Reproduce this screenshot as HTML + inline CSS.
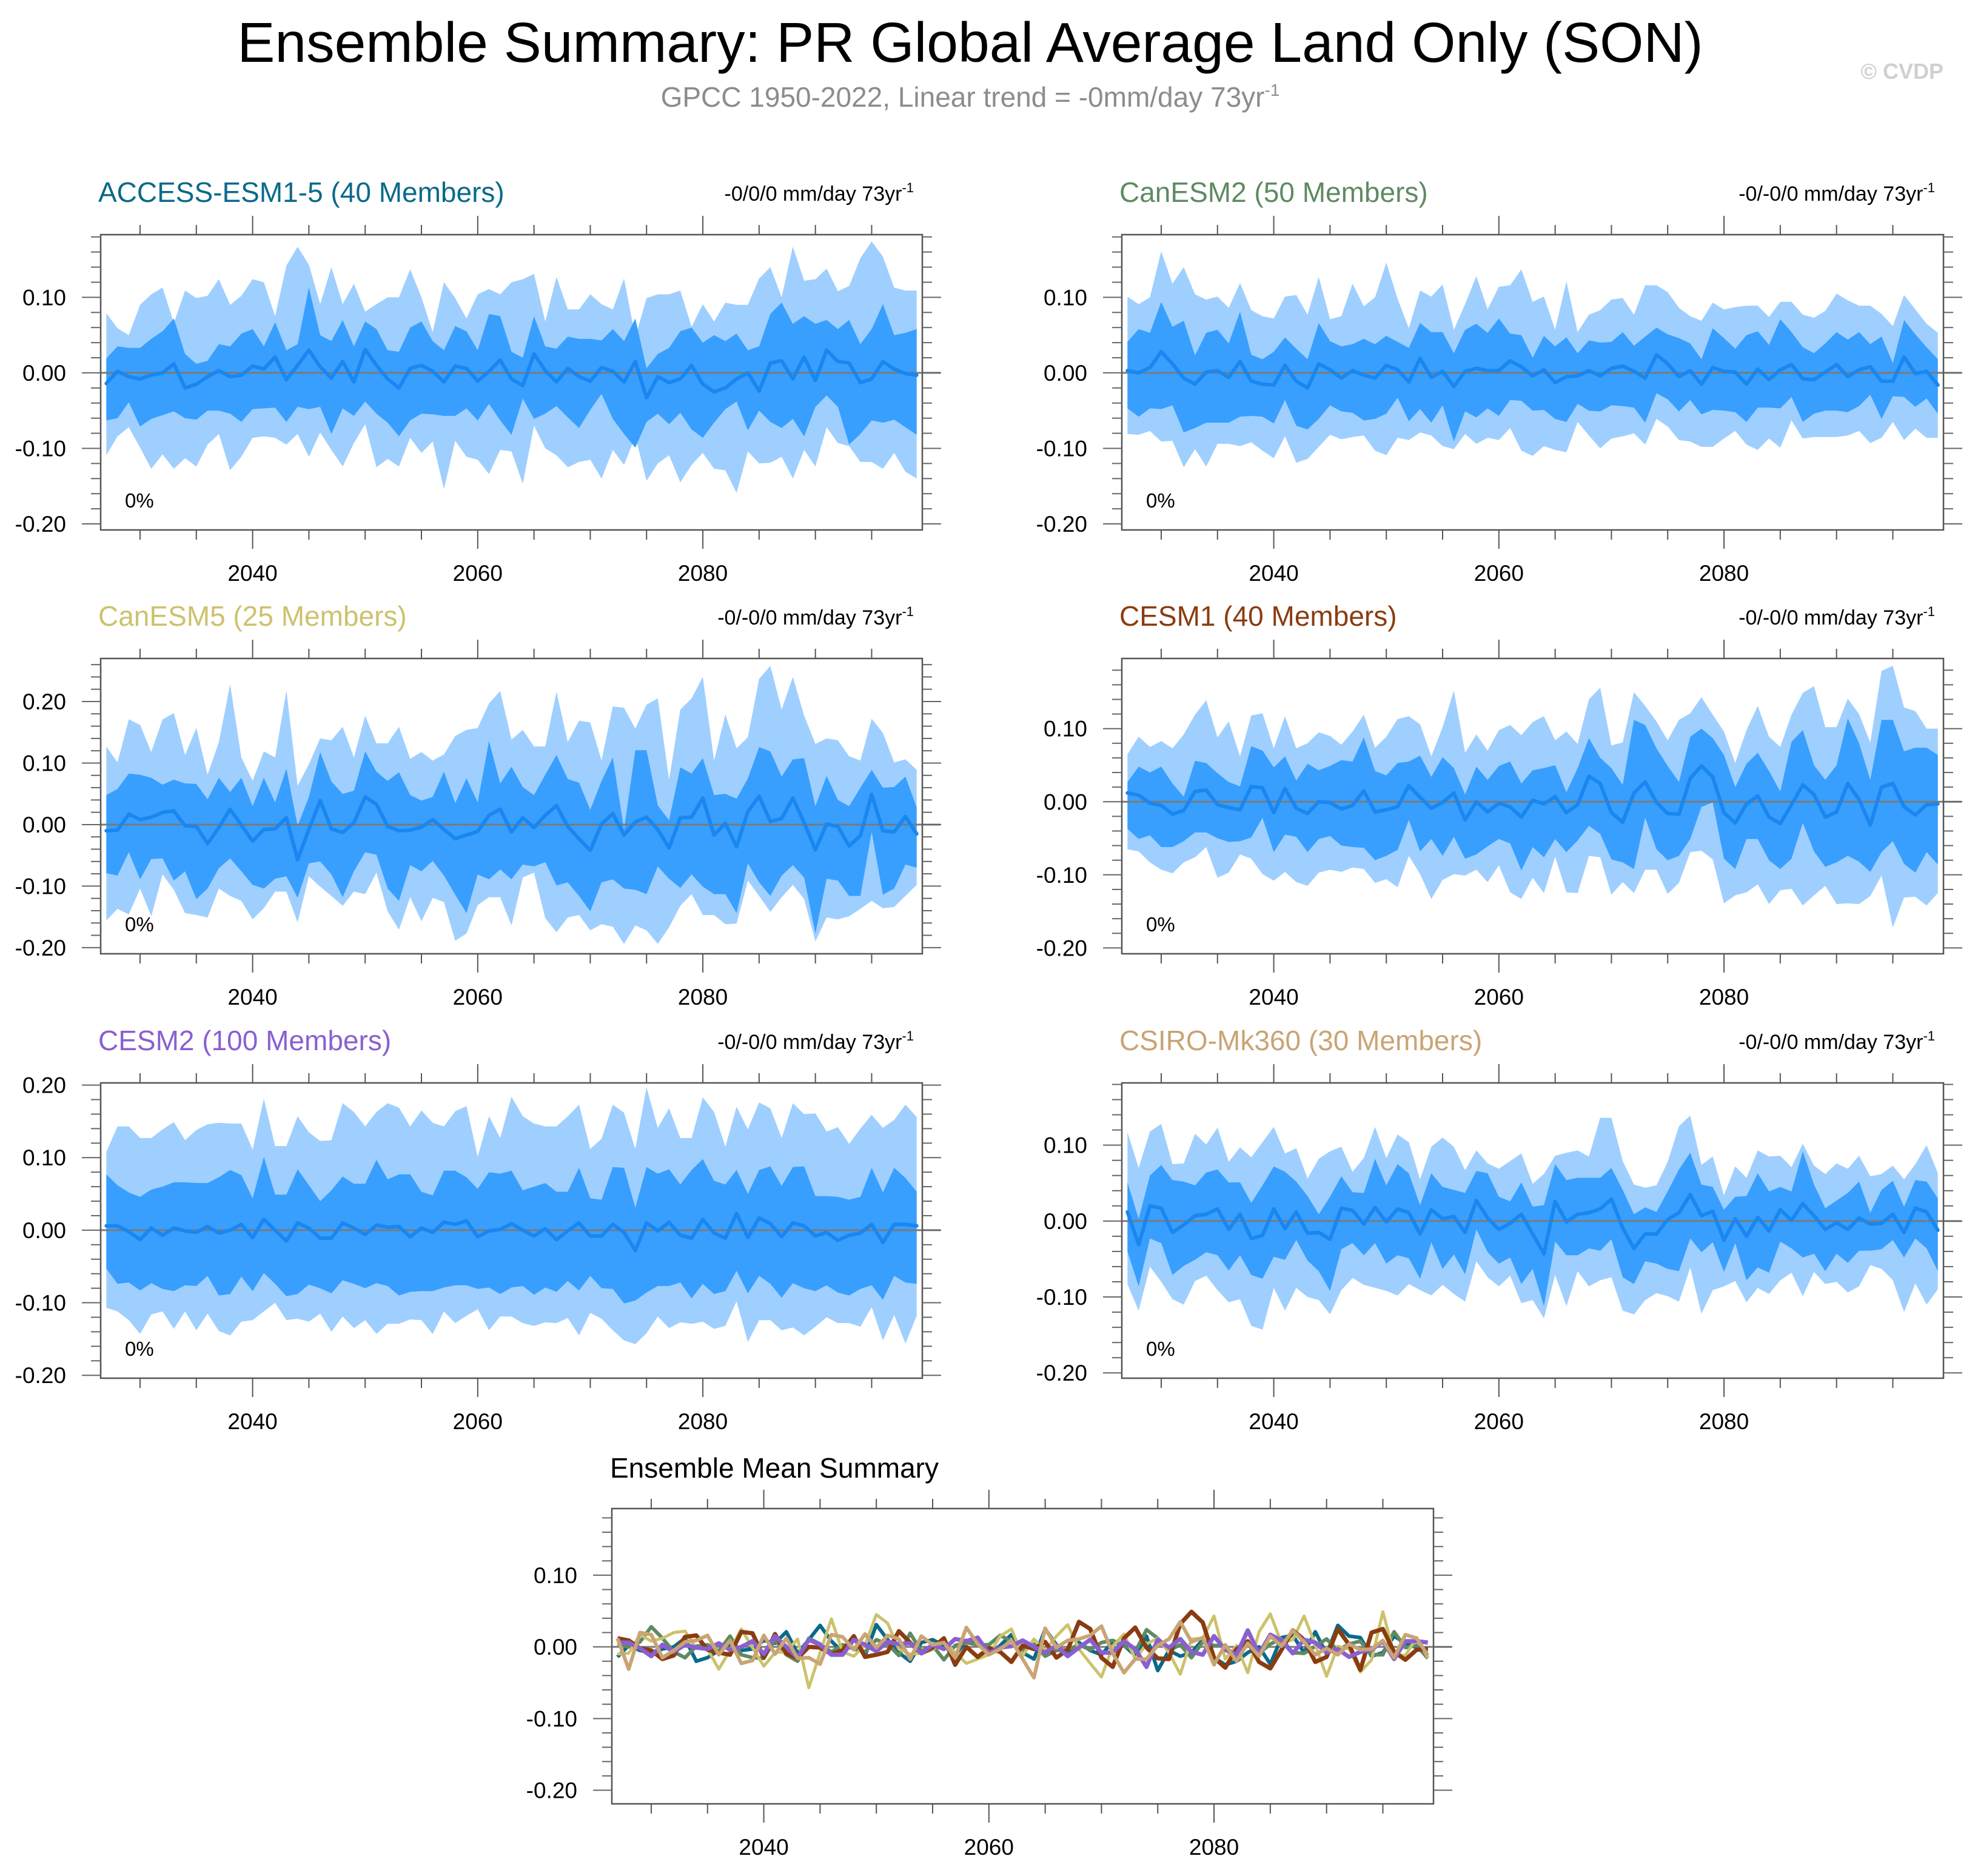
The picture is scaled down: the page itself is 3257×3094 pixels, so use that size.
<!DOCTYPE html>
<html><head><meta charset="utf-8">
<style>
html,body{margin:0;padding:0;background:#fff;}
svg{display:block;font-family:"Liberation Sans",sans-serif;}
</style></head>
<body>
<svg id="chart" width="3257" height="3094" viewBox="0 0 3257 3094" xmlns="http://www.w3.org/2000/svg">
<text x="1600" y="102" font-size="93" text-anchor="middle" fill="#000">Ensemble Summary: PR Global Average Land Only (SON)</text>
<text x="1600" y="176" font-size="46" text-anchor="middle" fill="#8c8c8c">GPCC 1950-2022, Linear trend = -0mm/day 73yr<tspan dy="-18" font-size="28">-1</tspan></text>
<text x="3205" y="130" font-size="36" font-weight="bold" text-anchor="end" fill="#d0d0d0">© CVDP</text>
</svg>
<script>
const years0 = 2027;
const xTicks = [2040, 2060, 2080];
const accessMean = [-14,2,-5,-8,-3,0,12,-20,-15,-5,3,-5,-3,9,5,21,-9,10,30,8,-7,15,-12,31,10,-8,-20,6,10,2,-12,9,6,-11,2,17,-8,-17,25,3,-12,6,-5,-11,7,2,-12,15,-33,-5,-13,-8,10,-15,-25,-20,-8,0,-24,13,16,-8,21,-10,30,15,13,-13,-8,15,5,-1,-3];
const accessInHi = [19,35,33,33,45,55,72,25,12,16,38,35,52,58,35,67,30,38,113,50,42,70,35,68,58,30,28,60,68,42,30,62,55,30,78,75,28,20,75,35,32,48,45,45,43,58,42,72,6,25,33,55,60,40,50,42,52,30,35,78,93,65,75,65,70,58,70,38,58,91,50,53,58];
const accessInLo = [-63,-60,-39,-71,-61,-56,-51,-60,-62,-50,-50,-54,-65,-48,-47,-46,-65,-45,-48,-45,-81,-47,-57,-38,-54,-66,-84,-63,-54,-55,-57,-57,-47,-63,-41,-63,-82,-34,-61,-54,-44,-59,-73,-49,-28,-61,-81,-99,-65,-54,-68,-53,-75,-86,-66,-48,-38,-76,-50,-65,-73,-61,-84,-45,-30,-45,-95,-81,-63,-66,-62,-72,-82];
const accessOutHi = [79,59,50,90,104,113,66,109,99,102,124,90,102,124,120,75,142,167,143,91,140,91,118,81,91,100,100,137,100,54,120,99,72,104,111,104,120,124,131,68,127,84,84,104,91,84,125,47,99,104,104,109,61,91,68,93,90,90,125,140,100,167,122,124,138,108,115,152,174,154,113,109,109];
const accessOutLo = [-109,-84,-72,-99,-127,-108,-127,-113,-124,-95,-81,-129,-111,-86,-84,-86,-95,-81,-111,-79,-102,-124,-93,-68,-125,-114,-124,-86,-106,-91,-154,-90,-111,-115,-134,-102,-104,-147,-70,-100,-109,-125,-118,-115,-140,-102,-122,-84,-143,-120,-109,-145,-122,-106,-127,-129,-159,-104,-120,-119,-111,-140,-102,-124,-72,-93,-97,-118,-118,-127,-106,-131,-140];

const canesm2Mean = [3,0,7,28,12,-7,-15,1,3,-6,15,-11,-15,-16,10,-11,-20,12,4,-7,3,-3,-7,10,4,-12,19,-6,2,-18,2,6,3,3,16,8,-4,4,-13,-5,-4,3,-4,6,9,2,-7,24,12,-5,3,-15,7,2,1,-15,5,-9,4,11,-8,-9,1,11,-5,4,8,-11,-11,21,-1,2,-16];
const canesm2InHi = [41,58,53,94,61,69,23,53,57,39,81,24,18,28,47,32,18,66,42,35,38,45,38,49,41,33,66,54,54,26,57,65,53,72,52,50,20,49,35,47,26,43,40,41,54,36,48,60,51,46,39,18,59,46,32,50,55,37,71,54,34,26,39,54,44,54,38,48,13,70,51,34,18];
const canesm2InLo = [-47,-58,-47,-48,-43,-79,-73,-66,-66,-66,-58,-57,-58,-67,-36,-70,-75,-61,-43,-51,-53,-63,-61,-54,-33,-64,-48,-66,-43,-91,-51,-59,-47,-57,-36,-37,-50,-49,-61,-65,-41,-50,-51,-43,-44,-46,-66,-27,-35,-51,-36,-55,-49,-50,-52,-65,-46,-46,-47,-32,-65,-54,-50,-50,-52,-44,-29,-61,-31,-32,-45,-34,-54];
const canesm2OutHi = [101,91,100,161,118,140,104,97,101,86,119,83,75,72,101,103,77,127,71,75,118,88,100,146,98,59,109,101,117,57,91,128,84,114,116,137,94,101,57,121,54,77,83,97,99,77,116,116,107,86,75,69,93,84,87,89,89,74,94,94,77,73,82,105,96,89,89,78,62,103,84,65,53];
const canesm2OutLo = [-81,-82,-77,-91,-90,-125,-101,-124,-94,-94,-97,-92,-103,-113,-84,-119,-114,-98,-82,-88,-85,-83,-103,-109,-86,-89,-79,-83,-97,-101,-81,-94,-86,-89,-73,-103,-110,-97,-102,-105,-65,-83,-100,-87,-84,-80,-95,-61,-71,-89,-91,-98,-98,-87,-77,-95,-102,-87,-99,-63,-87,-85,-85,-85,-83,-77,-93,-86,-65,-89,-74,-86,-86];

const canesm5Mean = [-10,-9,17,8,12,20,22,-2,-3,-31,-5,25,-1,-27,-8,-7,11,-57,-8,39,-7,-13,3,45,33,-3,-10,-9,-4,8,-8,-23,-17,-11,15,25,-12,11,-5,15,31,-3,-23,-42,1,18,-17,4,12,-8,-38,11,12,43,-17,2,-36,21,46,5,10,43,3,-41,1,-3,-35,-18,49,-10,-12,13,-15];
const canesm5InHi = [48,58,83,81,76,65,73,67,66,41,76,53,76,30,76,36,91,-2,45,118,70,50,55,119,86,71,85,48,39,45,86,35,75,36,136,67,94,61,48,81,113,74,68,24,71,109,-8,121,121,31,7,93,83,108,48,50,42,75,126,119,78,106,108,30,79,40,30,60,89,60,61,78,28];
const canesm5InLo = [-79,-83,-45,-89,-56,-55,-91,-76,-121,-104,-71,-55,-76,-98,-104,-88,-84,-119,-63,-60,-81,-118,-76,-45,-49,-104,-124,-66,-76,-59,-83,-114,-144,-81,-89,-73,-89,-65,-68,-61,-99,-94,-116,-141,-94,-89,-104,-106,-113,-68,-88,-103,-81,-101,-113,-113,-144,-63,-94,-116,-83,-66,-86,-177,-88,-91,-116,-116,-12,-114,-104,-65,-70];
const canesm5OutHi = [127,101,171,162,118,171,181,113,157,81,134,228,109,71,119,109,218,63,98,140,137,159,109,177,132,132,159,107,118,104,114,144,154,157,197,217,138,154,127,127,216,134,169,166,104,192,190,156,195,205,73,187,205,240,104,179,124,142,237,258,187,240,177,131,140,137,111,104,172,149,101,106,89];
const canesm5OutLo = [-156,-137,-146,-104,-149,-81,-106,-144,-147,-151,-104,-116,-124,-154,-136,-109,-109,-159,-84,-101,-116,-132,-109,-113,-78,-141,-171,-118,-157,-119,-126,-189,-177,-131,-118,-118,-164,-86,-78,-152,-175,-151,-147,-172,-162,-166,-194,-164,-172,-194,-167,-132,-113,-147,-147,-162,-161,-91,-116,-142,-118,-98,-121,-190,-151,-154,-149,-137,-124,-136,-134,-116,-98];

const cesm1Mean = [12,9,-2,-5,-17,-12,14,16,-4,-8,-11,21,19,-15,18,-9,-16,0,-1,-10,-5,15,-14,-11,-7,22,6,-9,-1,12,-25,0,-14,-2,-7,-21,2,-3,7,-15,-4,35,25,-15,-28,12,27,-1,-16,-17,32,49,34,-15,-29,-3,8,-21,-30,-4,23,10,-21,-14,25,3,-32,20,25,-7,-18,-4,-3];
const cesm1InHi = [27,48,40,48,25,7,56,53,39,27,21,76,70,47,62,29,52,43,49,57,55,88,42,36,53,55,63,34,61,46,10,48,30,49,55,25,43,46,50,13,46,87,60,46,23,112,105,73,49,27,89,100,87,64,20,52,67,42,14,82,98,50,30,50,114,80,30,112,112,69,74,74,64];
const cesm1InLo = [-37,-51,-46,-62,-62,-54,-42,-42,-50,-55,-54,-49,-22,-69,-45,-48,-69,-51,-47,-60,-62,-63,-80,-74,-66,-25,-68,-51,-74,-48,-78,-72,-61,-51,-57,-94,-62,-76,-51,-69,-53,-33,-44,-79,-83,-92,-22,-65,-80,-74,-51,-7,-1,-78,-92,-51,-51,-80,-92,-78,-29,-68,-89,-83,-74,-82,-96,-69,-54,-85,-97,-69,-86];
const cesm1OutHi = [65,89,75,83,73,92,119,139,88,110,62,118,121,73,117,73,80,95,90,78,96,119,74,89,113,117,106,62,102,152,67,92,70,98,105,91,109,117,84,96,79,140,156,77,81,150,131,110,84,112,121,143,119,96,53,98,131,89,75,119,149,158,102,102,141,120,81,179,186,129,124,100,100];
const cesm1OutLo = [-65,-68,-83,-93,-98,-83,-76,-62,-104,-97,-72,-78,-99,-108,-96,-110,-115,-97,-93,-96,-90,-92,-111,-106,-117,-74,-99,-133,-107,-99,-101,-93,-110,-87,-124,-133,-104,-125,-75,-124,-125,-74,-76,-127,-110,-125,-93,-93,-126,-111,-69,-67,-79,-139,-128,-124,-113,-140,-121,-119,-142,-128,-115,-140,-139,-140,-129,-101,-172,-131,-130,-142,-125];

const cesm2Mean = [6,6,-2,-13,3,-7,3,-1,-3,5,-4,0,8,-10,15,0,-15,10,3,-11,-11,10,3,-6,7,4,5,-9,3,-3,11,8,13,-9,-1,1,9,0,-8,2,-13,-1,10,-8,-8,8,-3,-28,10,-1,11,-7,-11,15,-4,-11,23,-10,17,9,-9,10,6,-8,-3,-14,-7,-4,8,-17,8,8,6];
const cesm2InHi = [77,62,52,46,56,60,66,66,65,65,73,83,76,44,101,49,49,84,62,40,55,74,64,64,97,70,77,77,53,48,82,82,73,57,80,78,82,55,60,65,53,53,86,44,42,87,86,31,87,78,84,63,83,98,68,63,83,50,83,88,61,87,88,47,47,46,42,46,86,52,86,72,53];
const cesm2InLo = [-53,-74,-72,-83,-73,-81,-84,-76,-77,-63,-90,-88,-64,-84,-59,-74,-91,-88,-75,-80,-87,-69,-74,-80,-73,-77,-90,-85,-84,-84,-79,-76,-76,-81,-79,-88,-79,-77,-89,-79,-85,-70,-83,-63,-80,-81,-101,-97,-86,-77,-77,-72,-94,-74,-88,-84,-56,-87,-63,-74,-93,-73,-80,-84,-76,-86,-90,-81,-76,-96,-63,-72,-74];
const cesm2OutHi = [108,143,143,127,127,139,149,124,138,146,148,147,147,111,181,116,116,157,135,123,124,175,163,143,163,175,169,143,165,148,143,164,171,101,157,127,184,157,147,143,143,157,173,112,126,173,162,112,197,141,168,127,127,183,163,115,170,139,176,168,127,175,160,161,136,142,119,140,159,141,152,173,156];
const cesm2OutLo = [-107,-112,-124,-143,-116,-112,-136,-112,-138,-115,-139,-145,-126,-124,-112,-100,-124,-122,-126,-115,-140,-119,-135,-124,-143,-129,-129,-123,-124,-143,-112,-128,-118,-109,-138,-119,-119,-128,-132,-127,-128,-121,-145,-114,-122,-138,-152,-157,-142,-119,-135,-127,-129,-126,-136,-132,-98,-154,-124,-124,-138,-134,-145,-133,-120,-128,-128,-133,-106,-152,-117,-156,-118];

const csiroMean = [12,-31,20,17,-15,-5,7,9,16,-11,9,-23,-19,16,-10,12,-16,-15,-24,17,14,-4,18,-1,16,11,-17,15,3,6,-15,27,4,-11,-3,9,-17,-43,26,-1,9,11,16,29,-9,-36,-17,-17,2,11,35,7,13,-25,3,-20,5,-13,15,1,23,7,-11,-2,-11,4,-4,-3,9,-15,17,12,-12];
const csiroInHi = [51,3,60,74,54,52,47,64,68,51,51,24,47,72,65,52,33,9,32,59,38,37,82,47,75,63,21,63,45,41,37,66,63,32,26,51,19,21,75,54,57,57,57,70,41,9,18,12,39,68,90,48,45,15,32,33,63,39,45,39,92,48,17,27,37,52,11,41,53,19,54,52,30];
const csiroInLo = [-40,-86,-23,-29,-71,-59,-51,-41,-45,-65,-45,-71,-76,-47,-51,-25,-52,-66,-92,-37,-29,-45,-29,-56,-45,-49,-76,-28,-63,-44,-70,-11,-41,-56,-48,-83,-63,-112,-27,-45,-45,-36,-39,-24,-74,-83,-53,-56,-63,-66,-23,-41,-28,-67,-29,-78,-61,-68,-27,-36,-48,-43,-66,-43,-55,-39,-39,-37,-25,-48,-23,-36,-66];
const csiroOutHi = [117,70,118,128,75,76,115,101,123,78,97,84,104,124,89,96,56,82,92,98,65,83,124,83,114,104,55,98,110,98,67,93,76,69,79,89,49,62,86,90,93,85,136,136,79,48,44,47,78,125,139,74,85,34,72,57,93,85,86,71,102,73,62,76,69,86,59,62,73,55,75,100,63];
const csiroOutLo = [-83,-118,-60,-80,-103,-110,-79,-72,-91,-107,-103,-138,-143,-88,-118,-88,-100,-104,-123,-91,-75,-84,-88,-92,-98,-83,-91,-98,-84,-96,-106,-53,-74,-86,-72,-108,-104,-128,-71,-112,-66,-86,-78,-74,-118,-123,-104,-95,-99,-106,-61,-122,-91,-86,-79,-107,-88,-96,-78,-68,-99,-67,-83,-80,-94,-86,-58,-63,-78,-120,-82,-110,-90];

const panelNames = ["ACCESS-ESM1-5 (40 Members)","CanESM2 (50 Members)","CanESM5 (25 Members)","CESM1 (40 Members)","CESM2 (100 Members)","CSIRO-Mk360 (30 Members)"];
const panelColors = ["#0a6a8a","#5f8a62","#ccc26c","#8a3c10","#8a5fd2","#c9a474"];
const trendLabels = ["-0/0/0 mm/day 73yr","-0/-0/0 mm/day 73yr","-0/-0/0 mm/day 73yr","-0/-0/0 mm/day 73yr","-0/-0/0 mm/day 73yr","-0/-0/0 mm/day 73yr"];
const yTickSets = [[0.1,0,-0.1,-0.2],[0.1,0,-0.1,-0.2],[0.2,0.1,0,-0.1,-0.2],[0.1,0,-0.1,-0.2],[0.2,0.1,0,-0.1,-0.2],[0.1,0,-0.1,-0.2]];
const yRanges = [[-0.208,0.183],[-0.208,0.183],[-0.21,0.27],[-0.208,0.196],[-0.204,0.203],[-0.207,0.182]];
const summaryTicks = [0.1,0,-0.1,-0.2];
const summaryRange = [-0.219,0.193];

const S = document.getElementById('chart');
const NS = "http://www.w3.org/2000/svg";
function mk(tag, attrs, parent){
  const e = document.createElementNS(NS, tag);
  for (const k in attrs) e.setAttribute(k, attrs[k]);
  (parent||S).appendChild(e);
  return e;
}
const allData = [
  [accessMean,accessInHi,accessInLo,accessOutHi,accessOutLo],
  [canesm2Mean,canesm2InHi,canesm2InLo,canesm2OutHi,canesm2OutLo],
  [canesm5Mean,canesm5InHi,canesm5InLo,canesm5OutHi,canesm5OutLo],
  [cesm1Mean,cesm1InHi,cesm1InLo,cesm1OutHi,cesm1OutLo],
  [cesm2Mean,cesm2InHi,cesm2InLo,cesm2OutHi,cesm2OutLo],
  [csiroMean,csiroInHi,csiroInLo,csiroOutHi,csiroOutLo]
];
const boxW = 1355, boxH = 487;
const boxXs = [166, 1850];
const boxYs = [387, 1086, 1786];

function axes(g, L, T, W, H, yr, ticks){
  const xS = y => L + (y - 2026.5) / 73 * W;
  const yS = v => T + (yr[1] - v) / (yr[1] - yr[0]) * H;
  return {xS, yS, draw: function(){
    const z = mk('line',{x1:L,x2:L+W+30,y1:yS(0),y2:yS(0),stroke:'#7a7a7a','stroke-width':3},g);
    
    
    const fr = mk('rect',{x:L,y:T,width:W,height:H,fill:'none',stroke:'#555','stroke-width':2.5},g);
    
    
    for (let yv = 2030; yv <= 2095; yv += 5){
      const major = xTicks.indexOf(yv) >= 0;
      const len = major ? 31 : 16;
      mk('line',{x1:xS(yv),x2:xS(yv),y1:T,y2:T-len,stroke:'#555','stroke-width':2},g);
      mk('line',{x1:xS(yv),x2:xS(yv),y1:T+H,y2:T+H+len,stroke:'#555','stroke-width':2},g);
      if (major){
        const t = mk('text',{x:xS(yv),y:T+H+84,'font-size':37,'text-anchor':'middle',fill:'#000'},g);
        t.textContent = yv;
        
        
      }
    }
    const lo = Math.ceil(yr[0]/0.02 - 1e-6), hi = Math.floor(yr[1]/0.02 + 1e-6);
    for (let k = lo; k <= hi; k++){
      const v = k*0.02;
      const major = Math.abs(k % 5) === 0;
      const len = major ? 31 : 16;
      mk('line',{x1:L,x2:L-len,y1:yS(v),y2:yS(v),stroke:'#666','stroke-width':2},g);
      mk('line',{x1:L+W,x2:L+W+len,y1:yS(v),y2:yS(v),stroke:'#666','stroke-width':2},g);
    }
    ticks.forEach(v => {
      const t = mk('text',{x:L-57,y:yS(v)+13,'font-size':37,'text-anchor':'end',fill:'#000'},g);
      t.textContent = v.toFixed(2);
      
      
    });
  }};
}

function bandPath(xS, yS, hi, lo){
  let d = '';
  hi.forEach((v,i) => { d += (i ? 'L' : 'M') + xS(years0+i).toFixed(1) + ',' + yS(v/1000).toFixed(1); });
  for (let i = lo.length-1; i >= 0; i--) d += 'L' + xS(years0+i).toFixed(1) + ',' + yS(lo[i]/1000).toFixed(1);
  return d + 'Z';
}
function linePath(xS, yS, arr){
  return arr.map((v,i) => (i ? 'L' : 'M') + xS(years0+i).toFixed(1) + ',' + yS(v/1000).toFixed(1)).join('');
}

for (let p = 0; p < 6; p++){
  const L = boxXs[p%2], T = boxYs[Math.floor(p/2)];
  const g = mk('g',{});
  
  
  const ax = axes(g, L, T, boxW, boxH, yRanges[p], yTickSets[p]);
  const [mean, inHi, inLo, outHi, outLo] = allData[p];
  const ob = mk('path',{d:bandPath(ax.xS, ax.yS, outHi, outLo), fill:'#9fcfff'},g);
  
  
  const ib = mk('path',{d:bandPath(ax.xS, ax.yS, inHi, inLo), fill:'#389ffe'},g);
  
  
  ax.draw();
  const ml = mk('path',{d:linePath(ax.xS, ax.yS, mean), fill:'none', stroke:'#1a86f0','stroke-width':6,'stroke-linejoin':'round','stroke-linecap':'round'},g);
  
  
  const tt = mk('text',{x:L-4,y:T-54,'font-size':46,fill:panelColors[p]},g);
  tt.textContent = panelNames[p];
  
  
  const tr = mk('text',{x:L+boxW-14,y:T-56,'font-size':34,'text-anchor':'end',fill:'#000'},g);
  tr.textContent = trendLabels[p];
  const sup = mk('tspan',{dy:-14,'font-size':22},tr);
  sup.textContent = '-1';
  
  
  const pc = mk('text',{x:L+40,y:T+450,'font-size':33,fill:'#000'},g);
  pc.textContent = '0%';
  
  
}

{
  const L = 1009, T = 2488, W = 1355, H = 487;
  const g = mk('g',{});
  
  
  const ax = axes(g, L, T, W, H, summaryRange, summaryTicks);
  ax.draw();
  const widths = [6,6,5,7,7,6];
  allData.forEach((d,p) => {
    const l = mk('path',{d:linePath(ax.xS, ax.yS, d[0]), fill:'none', stroke:panelColors[p], 'stroke-width':widths[p], 'stroke-linejoin':'round'},g);
    
    
  });
  const t = mk('text',{x:1006,y:2437,'font-size':46,fill:'#000'},g);
  t.textContent = 'Ensemble Mean Summary';
  
  
}
</script>
</body></html>
